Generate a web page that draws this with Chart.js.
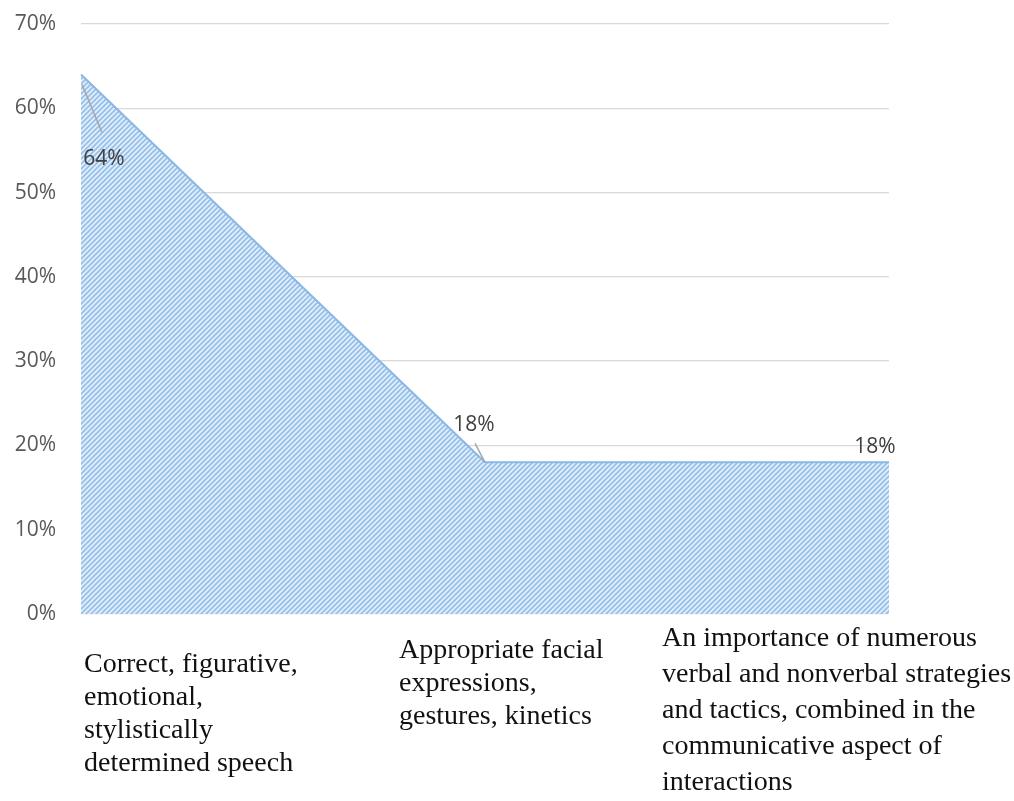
<!DOCTYPE html>
<html>
<head>
<meta charset="utf-8">
<script src="https://cdn.jsdelivr.net/npm/chart.js@4.4.1/dist/chart.umd.min.js"></script>
<style>
  html, body { margin: 0; padding: 0; background: #ffffff; }
  #wrap { width: 1014px; height: 801px; position: relative; }
</style>
</head>
<body>
<div id="wrap"><canvas id="chart"></canvas></div>
<script>
// chart data
const categories = [
  ['Correct, figurative,', 'emotional,', 'stylistically', 'determined speech'],
  ['Appropriate facial', 'expressions,', 'gestures, kinetics'],
  ['An importance of numerous', 'verbal and nonverbal strategies', 'and tactics, combined in the', 'communicative aspect of', 'interactions'],
];
const shares = [64, 18, 18];
const yTicks = { min: 0, max: 70, step: 10 };

// label placement (styling only, not data)
const valueLabelOffsets = [
  { dx: 23, dy: 84, leader: [1, 10, 21, 58] },
  { dx: -11, dy: -37, leader: [-10, -19, 0, 0] },
  { dx: -14, dy: -15, leader: null },
];
const categoryLabelBoxes = [
  { x: 84, y: 665, lh: 33 },
  { x: 399, y: 651, lh: 33 },
  { x: 662, y: 639, lh: 36 },
];

function makeHatch() {
  const c = document.createElement('canvas');
  c.width = 5; c.height = 5;
  const g = c.getContext('2d');
  g.fillStyle = '#e2eefa';
  g.fillRect(0, 0, 5, 5);
  g.strokeStyle = '#96bfea';
  g.lineWidth = 1.7;
  g.beginPath();
  g.moveTo(-1, 6); g.lineTo(6, -1);
  g.moveTo(-4, 4); g.lineTo(4, -4);
  g.moveTo(1, 9); g.lineTo(9, 1);
  g.stroke();
  return g.createPattern(c, 'repeat');
}

const labelsPlugin = {
  id: 'labels',
  afterDatasetsDraw(chart) {
    const ctx = chart.ctx;
    const meta = chart.getDatasetMeta(0);
    ctx.save();
    meta.data.forEach((pt, i) => {
      const o = valueLabelOffsets[i];
      if (o.leader) {
        ctx.strokeStyle = '#a6a6a6';
        ctx.lineWidth = 1.5;
        ctx.beginPath();
        ctx.moveTo(pt.x + o.leader[0], pt.y + o.leader[1]);
        ctx.lineTo(pt.x + o.leader[2], pt.y + o.leader[3]);
        ctx.stroke();
      }
      ctx.fillStyle = '#404040';
      ctx.font = '21px "Open Sans"';
      ctx.textAlign = 'center';
      ctx.textBaseline = 'middle';
      ctx.fillText(shares[i] + '%', pt.x + o.dx, pt.y + o.dy);
    });
    ctx.fillStyle = '#111111';
    ctx.font = '28px "Liberation Serif"';
    ctx.textAlign = 'left';
    ctx.textBaseline = 'middle';
    categories.forEach((lines, i) => {
      const b = categoryLabelBoxes[i];
      lines.forEach((line, j) => ctx.fillText(line, b.x, b.y + j * b.lh));
    });
    ctx.restore();
  }
};

new Chart(document.getElementById('chart'), {
  type: 'line',
  data: {
    labels: categories.map(c => c.join(' ')),
    datasets: [{
      data: shares,
      fill: 'origin',
      backgroundColor: makeHatch(),
      borderColor: '#8ab7e5',
      borderWidth: 2,
      pointRadius: 0,
      tension: 0,
    }],
  },
  options: {
    responsive: true,
    maintainAspectRatio: false,
    animation: false,
    layout: { padding: { left: 0, right: 125, top: 24, bottom: 187 } },
    plugins: { legend: { display: false }, tooltip: { enabled: false } },
    scales: {
      x: { display: false, offset: false },
      y: {
        min: yTicks.min,
        max: yTicks.max,
        border: { display: false },
        grid: { color: '#d9d9d9', lineWidth: 1.3, drawTicks: false },
        ticks: {
          stepSize: yTicks.step,
          padding: 25,
          color: '#595959',
          font: { family: '"Open Sans"', size: 21 },
          callback: v => v + '%',
        },
        afterFit(scale) {
          scale.width = 81;
          scale.paddingTop = 0;
          scale.paddingBottom = 0;
        },
      },
    },
  },
  plugins: [labelsPlugin],
});
</script>
</body>
</html>
